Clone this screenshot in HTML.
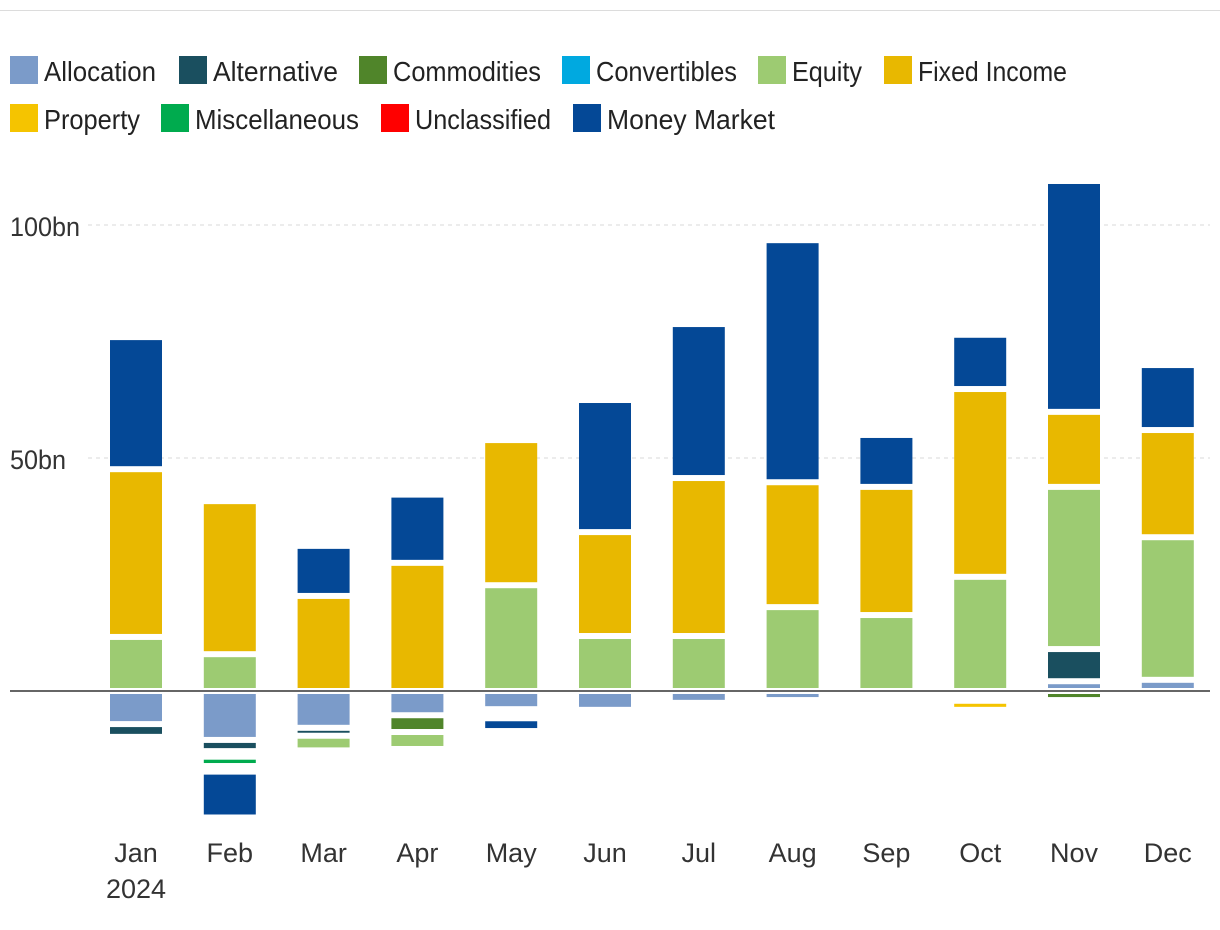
<!DOCTYPE html>
<html><head><meta charset="utf-8"><style>
html,body{margin:0;padding:0;background:#fff;}
svg{display:block;font-family:"Liberation Sans",sans-serif;}
</style></head><body>
<svg id="chart" width="1220" height="930" viewBox="0 0 1220 930" xmlns="http://www.w3.org/2000/svg">
<line x1="0" y1="10.5" x2="1220" y2="10.5" stroke="#dcdcdc" stroke-width="1"/>
<g id="legend"></g>
<g id="grid"></g>
<g id="bars"></g>
<g id="xaxis"></g>
</svg>
<script>
const months = ["Jan","Feb","Mar","Apr","May","Jun","Jul","Aug","Sep","Oct","Nov","Dec"];
const seriesNames = ["Allocation","Alternative","Commodities","Convertibles","Equity","Fixed Income","Property","Miscellaneous","Unclassified","Money Market"];
const seriesColors = ["#7b9bc9","#1a4f5f","#50852a","#00a9e0","#9dcb72","#e8b800","#f5c400","#00ab4e","#ff0000","#044896"];
const allocation   = [-7.1,-10.5,-7.9,-5.2,-3.9,-3.4,-1.9,-1.3,0,0,2.1,2.4];
const alternative  = [-2.1,-2.4,-1.7,0,0,0,0,0,0,0,6.9,0];
const commodities  = [0,0,0,-3.6,0,0,0,0,0,-1.0,-1.3,0];
const convertibles = [0,-1.2,0,0,-1.0,0,0,0,0,-1.1,0,0];
const equity       = [11.6,7.9,-2.5,-3.0,22.7,11.8,11.8,18.0,16.3,24.5,34.8,30.6];
const fixedIncome  = [36.0,32.2,20.4,27.5,30.5,22.3,33.9,26.8,27.5,40.3,16.1,23.0];
const property     = [0,0,0,0,0,0,0,0,0,-1.3,0,0];
const miscellaneous= [0,-2.0,0,0,0,0,0,0,0,0,0,0];
const unclassified = [0,-1.2,0,0,-0.95,0,0,0,0,0,0,0];
const moneyMarket  = [27.7,-9.2,10.1,14.0,-2.1,27.7,32.4,51.3,10.5,11.0,48.9,13.3];
const yTicks = [50,100];
const yTickLabels = ["50bn","100bn"];
const yearLabel = "2024";

const allSeries = [allocation,alternative,commodities,convertibles,equity,fixedIncome,property,miscellaneous,unclassified,moneyMarket];
const NS = "http://www.w3.org/2000/svg";
const zeroY = 691, pxPerBn = 4.66;
const y = v => zeroY - v * pxPerBn;
const x0 = 136, step = 93.8, barW = 52;
const xc = i => x0 + i * step;
function mk(tag, attrs, parent){const e=document.createElementNS(NS,tag);for(const k in attrs)e.setAttribute(k,attrs[k]);parent.appendChild(e);return e;}

// legend
const legendPos = [[10,56,44,112],[179,56,213,125],[359,56,393,148],[562,56,596,141],[758,56,792,70],[884,56,918,149],[10,104,44,96],[161,104,195,164],[381,104,415,136],[573,104,607,168]];
const lg = document.getElementById('legend');
seriesNames.forEach((n,i)=>{
  const p = legendPos[i];
  const g = mk('g',{},lg);
  
  
  mk('rect',{x:p[0],y:p[1],width:28,height:28,fill:seriesColors[i]},g);
  const t = mk('text',{x:p[2],y:p[1]+25,'font-size':28,fill:'#222',textLength:p[3],lengthAdjust:'spacingAndGlyphs'},g);
  t.textContent = n;
});

// grid
const gg = document.getElementById('grid');
yTicks.forEach((v,i)=>{
  const l = mk('line',{x1:88,x2:1210,y1:y(v),y2:y(v),stroke:'#d8d8d8','stroke-dasharray':'4 4','stroke-width':1},gg);
  
  
  const t = mk('text',{x:10,y:y(v)+11,'font-size':27,fill:'#333',textLength:yTickLabels[i].length*14,lengthAdjust:'spacingAndGlyphs'},gg);
  
  
  t.textContent = yTickLabels[i];
});

// bars
const bg = document.getElementById('bars');
months.forEach((m,i)=>{
  let pos=0, neg=0;
  allSeries.forEach((s,k)=>{
    const v = s[i]; if(!v) return;
    let a,b;
    if(v>0){a=pos;b=pos+v;pos=b;}else{a=neg;b=neg+v;neg=b;}
    const ya=y(a), yb=y(b);
    let top=Math.min(ya,yb), bot=Math.max(ya,yb);
    const isTop = (v>0 && allSeries.slice(k+1).every(s2=>!(s2[i]>0)));
    top += isTop?0:3; bot -= 3;
    if(v<0 && !allSeries.slice(k+1).some(s2=>s2[i]<0)) bot += 3;
    const h = bot-top;
    if(h<=0.5) return;
    const r = mk('rect',{x:xc(i)-barW/2,y:top,width:barW,height:h,fill:seriesColors[k]},bg);
    
    
  });
});

// x axis
const xg = document.getElementById('xaxis');
mk('line',{x1:10,x2:1210,y1:zeroY,y2:zeroY,stroke:'#666','stroke-width':2},xg);
months.forEach((m,i)=>{
  const t = mk('text',{x:xc(i),y:862,'font-size':27,fill:'#333','text-anchor':'middle'},xg);
  
  
  t.textContent = m;
});
const yr = mk('text',{x:xc(0),y:898,'font-size':27,fill:'#333','text-anchor':'middle'},xg);


yr.textContent = yearLabel;
</script>
</body></html>
